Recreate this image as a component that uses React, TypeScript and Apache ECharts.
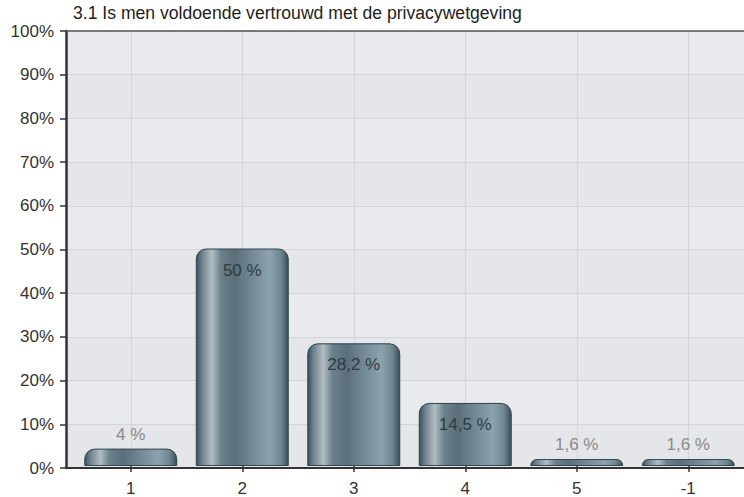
import React, { useEffect, useRef } from "react";
import * as echarts from "echarts";

const titleText = "3.1 Is men voldoende vertrouwd met de privacywetgeving";
const categories = ["1", "2", "3", "4", "5", "-1"];
const values = [4, 50, 28.2, 14.5, 1.6, 1.6];
const FONT = "'Liberation Sans', Arial, Helvetica, sans-serif";

const barGradient = new echarts.graphic.LinearGradient(0, 0, 1, 0, [
  { offset: 0, color: "#3b4f59" },
  { offset: 0.06, color: "#6c818c" },
  { offset: 0.17, color: "#b1bdc3" },
  { offset: 0.27, color: "#6a808b" },
  { offset: 0.42, color: "#5a6f7a" },
  { offset: 0.8, color: "#8ca3ae" },
  { offset: 0.92, color: "#6f8793" },
  { offset: 1, color: "#3a4e58" },
]);

const capGradient = new echarts.graphic.LinearGradient(0, 0, 0, 1, [
  { offset: 0, color: "rgba(30,44,52,0.55)" },
  { offset: 0.5, color: "rgba(30,44,52,0.2)" },
  { offset: 1, color: "rgba(30,44,52,0)" },
]);

export default function App() {
  const ref = useRef<HTMLDivElement>(null);
  useEffect(() => {
    if (!ref.current) return;
    const chart = echarts.init(ref.current, undefined, { renderer: "svg" });
    const data = values.map((v) => {
      const inside = v >= 10;
      return {
        value: v,
        label: {
          show: true,
          position: inside ? "insideTop" : "top",
          distance: inside ? 13 : 6,
          color: inside ? "#2e3a40" : "#8a8a8a",
          fontSize: 17,
          fontFamily: FONT,
          formatter: () => String(v).replace(".", ",") + " %",
        },
      };
    });
    const BW = 93;
    chart.setOption({
      animation: false,
      backgroundColor: "#ffffff",
      title: {
        text: titleText,
        left: 73,
        top: 4,
        padding: 0,
        textStyle: { fontSize: 17.6, fontWeight: "normal", color: "#222", fontFamily: FONT },
      },
      grid: [
        { left: 66, right: 0, top: 31, bottom: 29 },
        { left: 75, width: 672, top: 31, bottom: 29 },
      ],
      xAxis: [
        {
          gridIndex: 0,
          type: "value",
          min: 0,
          max: 1,
          axisLine: { show: true, onZero: false, lineStyle: { color: "#333", width: 2 } },
          axisTick: { show: false },
          axisLabel: { show: false },
          splitLine: { show: false },
        },
        {
          gridIndex: 0,
          type: "value",
          position: "top",
          min: 0,
          max: 1,
          axisLine: { show: true, onZero: false, lineStyle: { color: "#555", width: 1.5 } },
          axisTick: { show: false },
          axisLabel: { show: false },
          splitLine: { show: false },
        },
        {
          gridIndex: 1,
          type: "category",
          data: categories,
          axisLine: { show: false },
          axisTick: { show: true, alignWithLabel: true, length: 6, lineStyle: { color: "#333", width: 1.5 } },
          axisLabel: { fontSize: 17, color: "#333", margin: 14, fontFamily: FONT },
          splitLine: { show: true, alignWithLabel: true, lineStyle: { color: "#d2d4d7", width: 1 } },
        },
      ],
      yAxis: [
        {
          gridIndex: 0,
          type: "value",
          min: 0,
          max: 100,
          interval: 10,
          axisLine: { show: true, lineStyle: { color: "#333", width: 2.5 } },
          axisTick: { show: true, length: 6, lineStyle: { color: "#333", width: 1.5 } },
          axisLabel: { formatter: "{value}%", fontSize: 17, color: "#333", margin: 12, fontFamily: FONT },
          splitLine: { show: true, lineStyle: { color: "#d2d4d7", width: 1 } },
          splitArea: { show: true, areaStyle: { color: ["#e4e6e9", "#e8eaed"] } },
        },
        { gridIndex: 1, type: "value", min: 0, max: 100, show: false },
      ],
      series: [
        {
          type: "bar",
          xAxisIndex: 2,
          yAxisIndex: 1,
          barWidth: BW,
          data,
          z: 2,
          itemStyle: {
            color: barGradient,
            borderColor: "#33454e",
            borderWidth: 1,
            borderRadius: [10, 10, 0, 0],
          },
        },
        {
          type: "custom",
          xAxisIndex: 2,
          yAxisIndex: 1,
          z: 2,
          silent: true,
          data: values.map((v, i) => [i, v]),
          renderItem: (params: any, api: any) => {
            const idx = api.value(0);
            const v = api.value(1);
            const top = api.coord([idx, v]);
            const base = api.coord([idx, 0]);
            const h = Math.min(12, base[1] - top[1]);
            return {
              type: "rect",
              shape: { x: top[0] - BW / 2 + 0.5, y: top[1] + 0.5, width: BW - 1, height: h, r: [10, 10, 0, 0] },
              style: { fill: capGradient },
            };
          },
        },
      ],
    });
    return () => chart.dispose();
  }, []);
  return (
    <div
      ref={ref}
      style={{ position: "absolute", left: 0, top: 0, width: 744, height: 497 }}
    />
  );
}
